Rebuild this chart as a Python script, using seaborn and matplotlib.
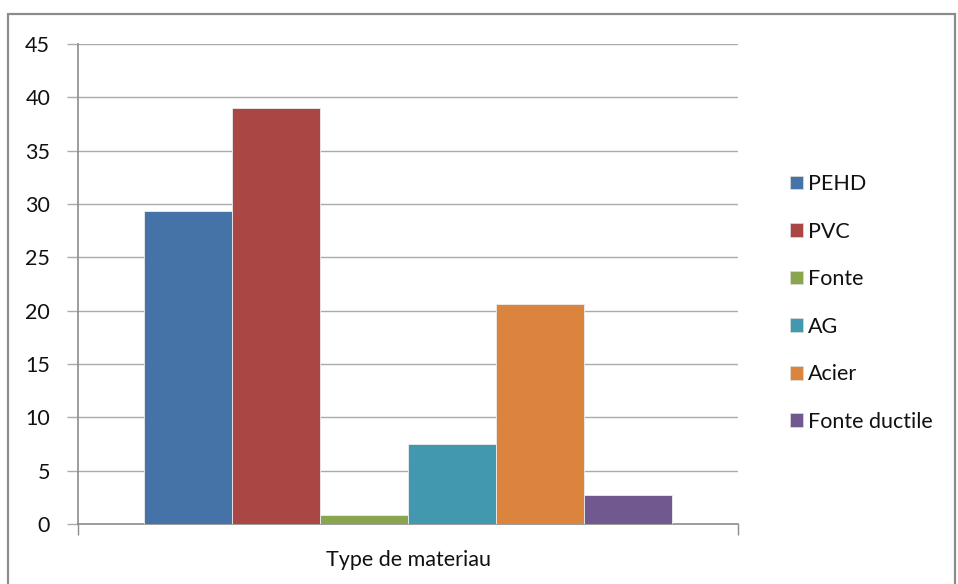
import matplotlib
matplotlib.use("Agg")
import matplotlib.pyplot as plt
import seaborn as sns
import pandas as pd
from matplotlib.patches import Rectangle

# Data
category = ["Type de materiau"]
materials = ["PEHD", "PVC", "Fonte", "AG", "Acier", "Fonte ductile"]
values = [29.3, 39.0, 0.85, 7.5, 20.6, 2.7]
colors = ["#4572A7", "#AA4643", "#89A54E", "#4198AF", "#DB843D", "#71588F"]
yticks = [0, 5, 10, 15, 20, 25, 30, 35, 40, 45]

df = pd.DataFrame({
    "categorie": category * len(materials),
    "materiau": materials,
    "valeur": values,
})

sns.set_theme(style="white")
plt.rcParams["font.family"] = ["Lato", "DejaVu Sans"]

fig = plt.figure(figsize=(9.58, 5.84), dpi=100)
ax = fig.add_axes([78 / 958, 60 / 584, 660 / 958, 480 / 584])

# Outer chart frame
fig.patches.append(Rectangle((8 / 958, -0.05), 947 / 958, 1.05 - 14 / 584,
                             transform=fig.transFigure, fill=False,
                             edgecolor="#8C8C8C", linewidth=1.6, zorder=0))

sns.barplot(data=df, x="categorie", y="valeur", hue="materiau",
            hue_order=materials, palette=colors, width=0.8,
            saturation=1, edgecolor="#EDEDED", linewidth=0.6,
            legend=False, ax=ax, zorder=3)

text_color = "#111111"
fs = 15.5

ax.set_xlim(-0.5, 0.5)
ax.set_ylim(0, 45)
ax.set_yticks(yticks)
ax.set_yticklabels([str(t) for t in yticks], fontsize=fs, color=text_color)
ax.yaxis.grid(True, color="#ABABAB", linewidth=1.0, zorder=0)
ax.set_axisbelow(True)

# Category boundaries as major ticks, category name as minor tick label
ax.set_xticks([-0.5, 0.5])
ax.set_xticklabels(["", ""])
ax.set_xticks([0], minor=True)
ax.set_xticklabels(category, minor=True, fontsize=fs, color=text_color)
ax.tick_params(axis="x", which="major", direction="out", length=8,
               color="#8C8C8C", width=1.0, bottom=True)
ax.tick_params(axis="x", which="minor", length=0, pad=19)
ax.tick_params(axis="y", direction="out", length=8, color="#ABABAB",
               width=1.0, left=True, pad=12)
ax.set_xlabel("")
ax.set_ylabel("")

for side in ["top", "right"]:
    ax.spines[side].set_visible(False)
for side in ["left", "bottom"]:
    ax.spines[side].set_color("#8C8C8C")
    ax.spines[side].set_linewidth(1.2)

handles = [Rectangle((0, 0), 1, 1, facecolor=c, edgecolor="#DDDDDD", linewidth=0.5)
           for c in colors]
fig.legend(handles, materials, loc="center left",
           bbox_to_anchor=(779 / 958, (584 - 303) / 584),
           frameon=False, fontsize=fs, labelcolor=text_color,
           handlelength=0.6, handleheight=0.6,
           handletextpad=0.25, labelspacing=1.28, borderpad=0)

fig.savefig("out.png", dpi=100)
